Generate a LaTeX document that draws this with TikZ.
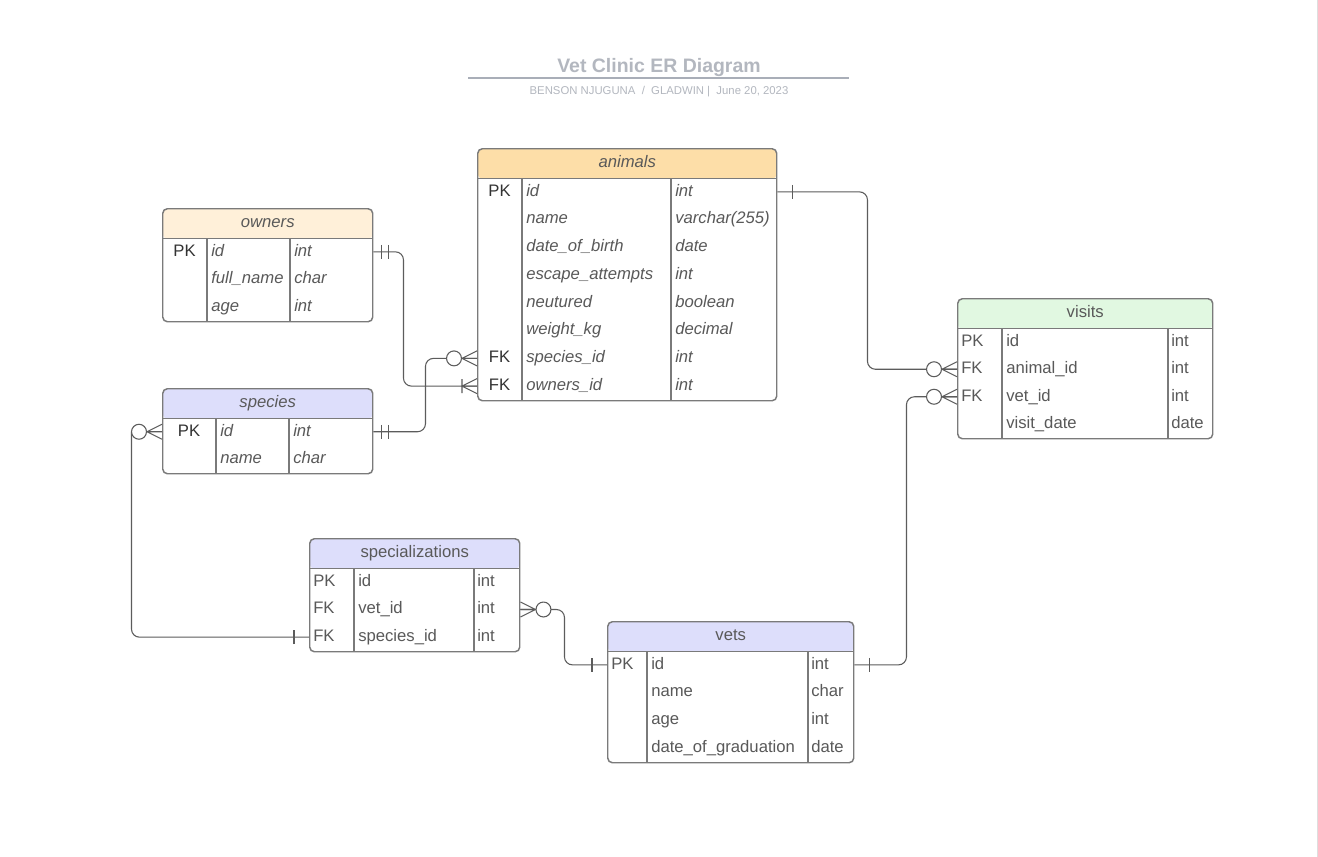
\documentclass[tikz,border=0pt]{standalone}
\usepackage{fontspec}
\setmainfont{Liberation Sans}
\usetikzlibrary{positioning}

\newcommand{\px}{0.75pt}
\definecolor{tableline}{HTML}{7A7A7A}
\definecolor{relline}{HTML}{5C5C5C}
\definecolor{textgray}{HTML}{595959}
\definecolor{keydark}{HTML}{333333}
\definecolor{titlegray}{HTML}{B3B7BF}
\definecolor{rulegray}{HTML}{A9AEB8}
\definecolor{ownersfill}{HTML}{FFF0D9}
\definecolor{animalsfill}{HTML}{FDDEA8}
\definecolor{speciesfill}{HTML}{DDDEFB}
\definecolor{visitsfill}{HTML}{E1F8E1}

\tikzset{
  ertable/.style={draw=tableline, line width=1.1pt, rounded corners=3.5pt,
    anchor=north west, inner sep=0pt},
  headfill/.style={path picture={
      \fill[#1] (path picture bounding box.north west)
        rectangle ([yshift=-30*\px]path picture bounding box.north east);
      \draw[tableline, line width=1.1pt]
        ([yshift=-30*\px]path picture bounding box.north west)
        -- ([yshift=-30*\px]path picture bounding box.north east);}},
  divider/.style={draw=tableline, line width=1.1pt},
  cell/.style={inner sep=0pt, text height=9pt, text depth=2.5pt,
    font=\fontsize{12.5}{15}\selectfont, text=textgray},
  keyc/.style={cell, text=keydark},
  keyl/.style={cell, anchor=west},
  lcell/.style={cell, anchor=west},
  icell/.style={cell, anchor=west, font=\fontsize{12.5}{15}\selectfont\itshape},
  headc/.style={cell, anchor=north},
  iheadc/.style={headc, font=\fontsize{12.5}{15}\selectfont\itshape},
  rel/.style={draw=relline, line width=0.8pt, rounded corners=6pt},
  relmark/.style={draw=relline, line width=0.8pt},
  pics/onebar/.style={code={\draw[relmark] (15,-7) -- (15,7);}},
  pics/onlyone/.style={code={\draw[relmark] (8,-7) -- (8,7) (15,-7) -- (15,7);}},
  pics/onemany/.style={code={
      \draw[relmark] (0,-7.5) -- (15,0) -- (0,7.5) (0,0) -- (15,0) (15,-7) -- (15,7);}},
  pics/zeromany/.style={code={
      \draw[relmark] (0,-7.5) -- (15,0) -- (0,7.5) (0,0) -- (15,0);
      \draw[relmark, fill=white] (23,0) circle[radius=5.6pt];}},
  titletext/.style={font=\fontsize{14.6}{17}\selectfont\bfseries, text=titlegray, inner sep=0pt},
  bytext/.style={font=\fontsize{8.5}{10}\selectfont, text=titlegray, inner sep=0pt},
  pageedge/.style={draw=black!13, line width=1.2pt}
}

\begin{document}
\begin{tikzpicture}[x=\px, y=-\px]
  \fill[white] (0,0) rectangle (1318,857);
  \useasboundingbox (0,0) rectangle (1318,857);
  \draw[pageedge] (1317.3,0) -- (1317.3,857);

  % title block
  \node[titletext] (title) at (659,67.5) {Vet Clinic ER Diagram};
  \draw[rulegray, line width=1.1pt] (468,78) -- (849,78);
  \node[bytext] (byline) at (659,92) {BENSON NJUGUNA \ / \ GLADWIN |\ \ June 20, 2023};

  % owners
  \node[ertable, headfill=ownersfill, minimum width=210*\px, minimum height=113*\px] (owners) at (162,208) {};
  \node[iheadc, below=5.5pt of owners.north] (owners-head) {owners};
  \draw[divider] (207,238) -- (207,321) (290,238) -- (290,321);
  \foreach \i/\k/\n/\t in {1/PK/id/int, 2//full\_name/char, 3//age/int}{
    \pgfmathsetmacro\ry{238+27.67*(\i-0.5)}
    \node[keyc] (owners-\i) at (184.5,\ry) {\k};
    \node[icell] at (211,\ry) {\n};
    \node[icell] at (294,\ry) {\t};
  }

  % species
  \node[ertable, headfill=speciesfill, minimum width=210*\px, minimum height=85*\px] (species) at (162,388) {};
  \node[iheadc, below=5.5pt of species.north] (species-head) {species};
  \draw[divider] (216,418) -- (216,473) (289,418) -- (289,473);
  \foreach \i/\k/\n/\t in {1/PK/id/int, 2//name/char}{
    \pgfmathsetmacro\ry{418+27.5*(\i-0.5)}
    \node[keyc] (species-\i) at (189,\ry) {\k};
    \node[icell] at (220,\ry) {\n};
    \node[icell] at (293,\ry) {\t};
  }

  % animals
  \node[ertable, headfill=animalsfill, minimum width=299*\px, minimum height=252*\px] (animals) at (477,148) {};
  \node[iheadc, below=5.5pt of animals.north] (animals-head) {animals};
  \draw[divider] (522,178) -- (522,400) (671,178) -- (671,400);
  \foreach \i/\k/\n/\t in {1/PK/id/int, 2//name/varchar(255), 3//date\_of\_birth/date,
      4//escape\_attempts/int, 5//neutured/boolean, 6//weight\_kg/decimal,
      7/FK/species\_id/int, 8/FK/owners\_id/int}{
    \pgfmathsetmacro\ry{178+27.75*(\i-0.5)}
    \node[keyc] (animals-\i) at (499.5,\ry) {\k};
    \node[icell] at (526,\ry) {\n};
    \node[icell] at (675,\ry) {\t};
  }

  % visits
  \node[ertable, headfill=visitsfill, minimum width=255*\px, minimum height=140*\px] (visits) at (957,298) {};
  \node[headc, below=5.5pt of visits.north] (visits-head) {visits};
  \draw[divider] (1002,328) -- (1002,438) (1168,328) -- (1168,438);
  \foreach \i/\k/\n/\t in {1/PK/id/int, 2/FK/animal\_id/int, 3/FK/vet\_id/int, 4//visit\_date/date}{
    \pgfmathsetmacro\ry{328+27.5*(\i-0.5)}
    \node[keyl] (visits-\i) at (961,\ry) {\k};
    \node[lcell] at (1006,\ry) {\n};
    \node[lcell] at (1171,\ry) {\t};
  }

  % specializations
  \node[ertable, headfill=speciesfill, minimum width=210*\px, minimum height=113*\px] (specializations) at (309,538) {};
  \node[headc, below=5.5pt of specializations.north] (specializations-head) {specializations};
  \draw[divider] (354,568) -- (354,651) (474,568) -- (474,651);
  \foreach \i/\k/\n/\t in {1/PK/id/int, 2/FK/vet\_id/int, 3/FK/species\_id/int}{
    \pgfmathsetmacro\ry{568+27.67*(\i-0.5)}
    \node[keyl] (specializations-\i) at (313,\ry) {\k};
    \node[lcell] at (358,\ry) {\n};
    \node[lcell] at (477,\ry) {\t};
  }

  % vets
  \node[ertable, headfill=speciesfill, minimum width=246*\px, minimum height=141*\px] (vets) at (607,621) {};
  \node[headc, below=5.5pt of vets.north] (vets-head) {vets};
  \draw[divider] (647,651) -- (647,762) (808,651) -- (808,762);
  \foreach \i/\k/\n/\t in {1/PK/id/int, 2//name/char, 3//age/int, 4//date\_of\_graduation/date}{
    \pgfmathsetmacro\ry{651+27.75*(\i-0.5)}
    \node[keyl] (vets-\i) at (611,\ry) {\k};
    \node[lcell] at (651,\ry) {\n};
    \node[lcell] at (811,\ry) {\t};
  }

  % relations
  \draw[rel] (owners.east |- owners-1) -- ++(30,0) |- (animals.west |- animals-8);
  \draw[rel] (species.east |- species-1) -- ++(52,0) |- (animals.west |- animals-7);
  \draw[rel] (animals.east |- animals-1) -- ++(90,0) |- (visits.west |- visits-2);
  \draw[rel] (vets.east |- vets-1) -- ++(52,0) |- (visits.west |- visits-3);
  \draw[rel] (species.west |- species-1) ++(-30.5,0) |- (specializations.west |- specializations-3);
  \draw[rel] (specializations.east |- specializations-2) -- ++(44,0) |- (vets.west |- vets-1);

  % relation ends
  \pic at (owners.east |- owners-1) {onlyone};
  \pic[rotate=180] at (animals.west |- animals-8) {onemany};
  \pic at (species.east |- species-1) {onlyone};
  \pic[rotate=180] at (animals.west |- animals-7) {zeromany};
  \pic at (animals.east |- animals-1) {onebar};
  \pic[rotate=180] at (visits.west |- visits-2) {zeromany};
  \pic at (vets.east |- vets-1) {onebar};
  \pic[rotate=180] at (visits.west |- visits-3) {zeromany};
  \pic[rotate=180] at (species.west |- species-1) {zeromany};
  \pic[rotate=180] at (specializations.west |- specializations-3) {onebar};
  \pic at (specializations.east |- specializations-2) {zeromany};
  \pic[rotate=180] at (vets.west |- vets-1) {onebar};
\end{tikzpicture}
\end{document}
